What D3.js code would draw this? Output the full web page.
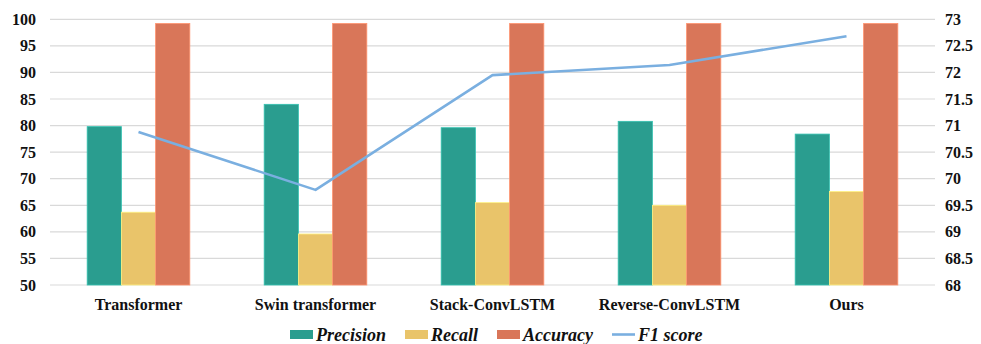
<!DOCTYPE html>
<html>
<head>
<meta charset="utf-8">
<script src="https://cdn.jsdelivr.net/npm/d3@7"></script>
<style>
  html, body { margin: 0; padding: 0; background: #fff; }
</style>
</head>
<body>
<svg id="chart" width="981" height="344"></svg>
<script>
const categories = ["Transformer", "Swin transformer", "Stack-ConvLSTM", "Reverse-ConvLSTM", "Ours"];
const precision = [79.8, 84.0, 79.6, 80.8, 78.4];
const recall = [63.7, 59.6, 65.5, 65.0, 67.6];
const accuracy = [99.2, 99.2, 99.2, 99.2, 99.2];
const f1score = [70.88, 69.79, 71.95, 72.14, 72.68];
const leftTicks = [50, 55, 60, 65, 70, 75, 80, 85, 90, 95, 100];
const rightTicks = [68, 68.5, 69, 69.5, 70, 70.5, 71, 71.5, 72, 72.5, 73];

const barSeries = [
  { name: "Precision", values: precision, color: "#2a9d8f" },
  { name: "Recall", values: recall, color: "#e9c46a" },
  { name: "Accuracy", values: accuracy, color: "#d97659" }
];
const lineColor = "#7aafe0";
const FONT = "\"Liberation Serif\"";

const svg = d3.select("#chart");
const m = { left: 50, right: 46, top: 19.3, bottom: 59 };
const W = 981, H = 344;
const plotW = W - m.left - m.right, plotH = H - m.top - m.bottom;
const g = svg.append("g").attr("transform", `translate(${m.left},${m.top})`);

const x = d3.scaleBand().domain(categories).range([0, plotW]);
const yL = d3.scaleLinear().domain([50, 100]).range([plotH, 0]);
const yR = d3.scaleLinear().domain([68, 73]).range([plotH, 0]);

function styleText(sel, size) {
  sel.style("font-family", FONT)
    .style("font-weight", "bold").style("font-size", size).attr("fill", "#111");
}

// gridlines
g.append("g").selectAll("line").data(leftTicks).join("line")
  .attr("x1", 0).attr("x2", plotW)
  .attr("y1", d => yL(d)).attr("y2", d => yL(d))
  .attr("stroke", "#d9d9d9").attr("stroke-width", 1.2);

// left axis
const axL = g.append("g").call(d3.axisLeft(yL).tickValues(leftTicks).tickSize(0).tickPadding(14));
axL.select(".domain").remove();
styleText(axL.selectAll("text"), "16px");

// right axis
const axR = g.append("g").attr("transform", `translate(${plotW},0)`)
  .call(d3.axisRight(yR).tickValues(rightTicks).tickSize(0).tickPadding(10).tickFormat(d3.format("")));
axR.select(".domain").remove();
styleText(axR.selectAll("text"), "16px");

// bars
const groupW = x.bandwidth() * 0.58;
const xs = d3.scaleBand().domain(barSeries.map(s => s.name)).range([0, groupW]);
const groups = g.append("g").selectAll("g").data(categories).join("g")
  .attr("transform", d => `translate(${x(d) + (x.bandwidth() - groupW) / 2},0)`);
barSeries.forEach(s => {
  groups.append("rect")
    .attr("x", xs(s.name))
    .attr("width", xs.bandwidth())
    .attr("y", (d, i) => yL(s.values[i]))
    .attr("height", (d, i) => yL(50) - yL(s.values[i]))
    .attr("fill", s.color)
    .attr("stroke", d3.color(s.color).brighter(0.6))
    .attr("stroke-width", 0.8);
});

// F1 line
const line = d3.line().x((d, i) => x(categories[i]) + x.bandwidth() / 2).y(d => yR(d));
g.append("path").datum(f1score).attr("d", line)
  .attr("fill", "none").attr("stroke", lineColor).attr("stroke-width", 2.6)
  .attr("stroke-linejoin", "round");

// category axis
const axB = g.append("g").attr("transform", `translate(0,${plotH})`)
  .call(d3.axisBottom(x).tickSize(0).tickPadding(14));
axB.select(".domain").remove();
styleText(axB.selectAll("text"), "16px");

// legend
const legendItems = [
  { name: "Precision", type: "rect", color: barSeries[0].color, x: 290 },
  { name: "Recall", type: "rect", color: barSeries[1].color, x: 405 },
  { name: "Accuracy", type: "rect", color: barSeries[2].color, x: 497 },
  { name: "F1 score", type: "line", color: lineColor, x: 612 }
];
const lg = svg.append("g");
legendItems.forEach(it => {
  if (it.type === "rect") {
    lg.append("rect").attr("x", it.x).attr("y", 330).attr("width", 23).attr("height", 9).attr("fill", it.color);
  } else {
    lg.append("line").attr("x1", it.x).attr("x2", it.x + 23).attr("y1", 334.5).attr("y2", 334.5)
      .attr("stroke", it.color).attr("stroke-width", 2.6);
  }
  const t = lg.append("text").attr("x", it.x + 26).attr("y", 340.5).text(it.name);
  styleText(t, "18px");
  t.style("font-style", "italic");
});
</script>
</body>
</html>
